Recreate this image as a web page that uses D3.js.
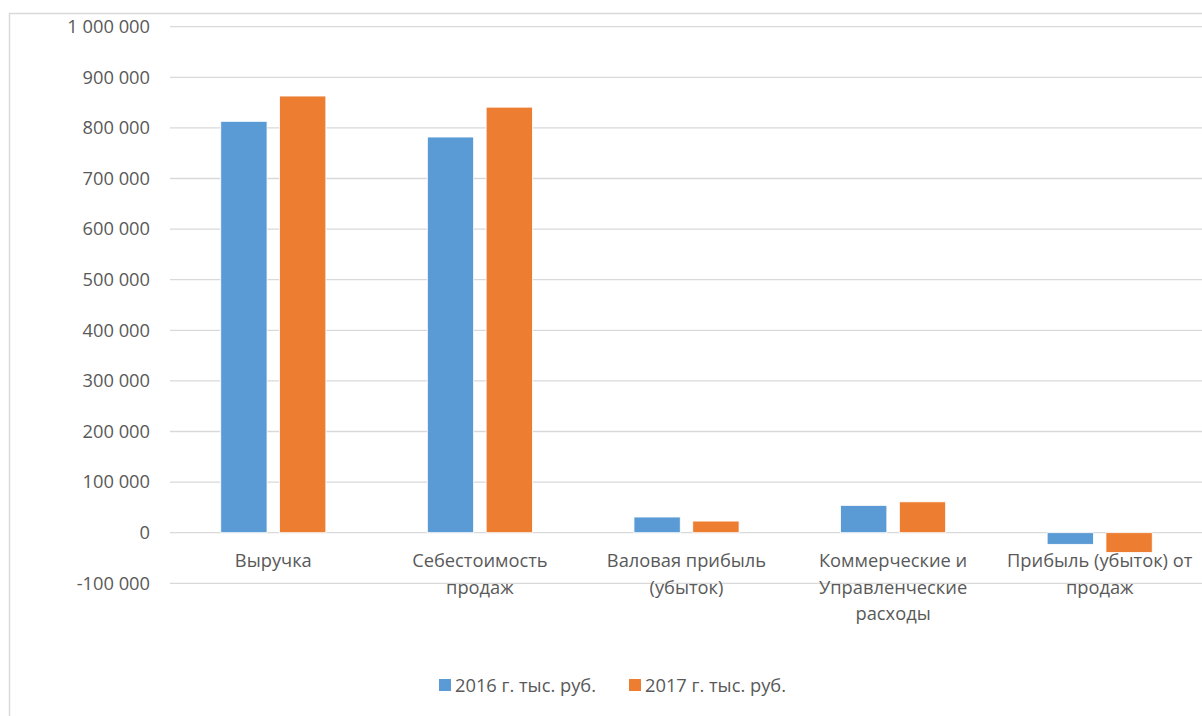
<!DOCTYPE html>
<html><head><meta charset="utf-8">
<script src="https://cdn.jsdelivr.net/npm/d3@7"></script>
<style>body{margin:0;background:#fff}svg{display:block}text{font-family:"Open Sans",sans-serif;fill:#595959}</style>
</head><body><svg id="c" width="1202" height="716"></svg>
<script>
const categories = ["Выручка", "Себестоимость\nпродаж", "Валовая прибыль\n(убыток)", "Коммерческие и\nУправленческие\nрасходы", "Прибыль (убыток) от\nпродаж"];
const seriesNames = ["2016 г. тыс. руб.", "2017 г. тыс. руб."];
const values2016 = [813000, 782000, 31000, 54000, -23000];
const values2017 = [863000, 841000, 23000, 61000, -39000];
const yTicks = [-100000, 0, 100000, 200000, 300000, 400000, 500000, 600000, 700000, 800000, 900000, 1000000];
const colors = ["#5b9bd5", "#ed7d31"];
const FS = "18.3px";

const svg = d3.select("#c");
svg.append("rect").attr("x", 9.5).attr("y", 13.5).attr("width", 1250).attr("height", 750)
  .attr("fill", "#fff").attr("stroke", "#d9d9d9").attr("stroke-width", 1.5);

const left = 170, right = 1203;
const y = d3.scaleLinear().domain([-100000, 1000000]).range([583.3, 26.7]);
const x0 = d3.scaleBand().domain(categories).range([left, right]).padding(0);
const groupW = 105.1;
const x1 = d3.scaleBand().domain(seriesNames)
  .range([(x0.bandwidth() - groupW) / 2, (x0.bandwidth() + groupW) / 2]).paddingInner(0.2126);

const fmt = v => (v < 0 ? "-" : "") + d3.format(",")(Math.abs(v)).replace(/,/g, " ");

// gridlines
svg.append("g").selectAll("line").data(yTicks).join("line")
  .attr("x1", left).attr("x2", right).attr("y1", d => y(d)).attr("y2", d => y(d))
  .attr("stroke", "#d9d9d9").attr("stroke-width", 1.3);

// y axis labels
const yAxis = d3.axisLeft(y).tickValues(yTicks).tickFormat(fmt).tickSize(0).tickPadding(0);
const ya = svg.append("g").attr("transform", "translate(150,0)").call(yAxis);
ya.select(".domain").remove();
ya.selectAll("text").style("font-size", FS).style("font-family", "Open Sans, sans-serif").attr("fill", "#595959");

// bars
const seriesData = [values2016, values2017];
const g = svg.append("g");
categories.forEach((c, i) => {
  seriesNames.forEach((s, j) => {
    const v = seriesData[j][i];
    g.append("rect")
      .attr("x", x0(c) + x1(s)).attr("width", x1.bandwidth())
      .attr("y", y(Math.max(0, v))).attr("height", Math.abs(y(v) - y(0)))
      .attr("fill", colors[j]).attr("stroke", "#fff").attr("stroke-width", 0.8);
  });
});

// category labels
categories.forEach(c => {
  const lines = c.split("\n");
  const t = svg.append("text").attr("text-anchor", "middle").style("font-size", FS)
    .attr("x", x0(c) + x0.bandwidth() / 2).attr("y", 567);
  lines.forEach((l, k) => t.append("tspan").attr("x", x0(c) + x0.bandwidth() / 2).attr("dy", k === 0 ? 0 : 26.5).text(l));
});

// legend
const legX = [439, 629];
seriesNames.forEach((s, j) => {
  svg.append("rect").attr("x", legX[j]).attr("y", 679).attr("width", 12).attr("height", 12).attr("fill", colors[j]);
  svg.append("text").attr("x", legX[j] + 16).attr("y", 691.5).style("font-size", FS).text(s);
});
</script></body></html>
